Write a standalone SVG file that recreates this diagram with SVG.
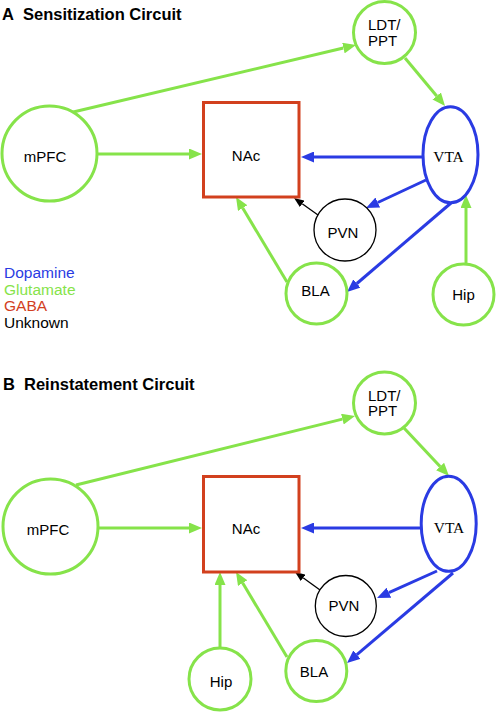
<svg xmlns="http://www.w3.org/2000/svg" width="496" height="712" viewBox="0 0 496 712">
<style>
.bg{fill:#ffffff}
.title{font-family:"Liberation Sans",Arial,sans-serif;font-weight:bold;font-size:16.5px;fill:#000}
.lbl{font-family:"Liberation Sans",Arial,sans-serif;font-size:15px;fill:#000;text-anchor:middle}
.lbll{font-family:"Liberation Sans",Arial,sans-serif;font-size:15px;fill:#000}
.serif{font-family:"Liberation Serif","Times New Roman",serif;font-size:15.5px;fill:#000;text-anchor:middle}
.leg{font-family:"Liberation Sans",Arial,sans-serif;font-size:15.5px}
.glu{fill:#fff;stroke:#86e34a;stroke-width:3}
.da{fill:#fff;stroke:#2a3be3;stroke-width:3}
.gaba{fill:#fff;stroke:#d2401e;stroke-width:3}
.unk{fill:#fff;stroke:#000;stroke-width:1.3}
.eg{stroke:#86e34a;stroke-width:3;fill:none;marker-end:url(#ag)}
.eb{stroke:#2a3be3;stroke-width:3;fill:none;marker-end:url(#ab)}
.ek{stroke:#000;stroke-width:1.3;fill:none;marker-end:url(#ak)}
</style>
<defs>
<marker id="ag" markerUnits="userSpaceOnUse" markerWidth="13" markerHeight="11" viewBox="0 0 13 11" refX="0" refY="5.5" orient="auto"><path d="M0,0 L13,5.5 L0,11 z" fill="#86e34a"/></marker>
<marker id="ab" markerUnits="userSpaceOnUse" markerWidth="13" markerHeight="11" viewBox="0 0 13 11" refX="0" refY="5.5" orient="auto"><path d="M0,0 L13,5.5 L0,11 z" fill="#2a3be3"/></marker>
<marker id="ak" markerUnits="userSpaceOnUse" markerWidth="10" markerHeight="8" viewBox="0 0 10 8" refX="0" refY="4" orient="auto"><path d="M0,0 L10,4 L0,8 z" fill="#000"/></marker>
</defs>
<rect class="bg" x="0" y="0" width="496" height="712"/>

<g id="titleA"><text class="title" x="2" y="20">A</text><text class="title" x="23" y="20">Sensitization Circuit</text></g>
<g id="titleB"><text class="title" x="3" y="390">B</text><text class="title" x="24" y="390">Reinstatement Circuit</text></g>

<g id="legend">
<text class="leg" x="4" y="278" fill="#2a3be3">Dopamine</text>
<text class="leg" x="4" y="294.5" fill="#86e34a">Glutamate</text>
<text class="leg" x="4" y="311" fill="#d2401e">GABA</text>
<text class="leg" x="4" y="327.5" fill="#000">Unknown</text>
</g>

<g id="connectors">
<line class="eg" x1="69" y1="113" x2="343.4" y2="48"/>
<line class="eg" x1="97" y1="154" x2="189" y2="154"/>
<line class="eg" x1="405" y1="58" x2="436.7" y2="96"/>
<line class="eb" x1="423" y1="157" x2="314" y2="157"/>
<line class="eb" x1="426" y1="180" x2="377.8" y2="202.5"/>
<line class="ek" x1="318" y1="215" x2="302.2" y2="203.8"/>
<line class="eb" x1="451" y1="203" x2="356.9" y2="283.5"/>
<line class="eg" x1="287" y1="282" x2="242.7" y2="208.1"/>
<line class="eg" x1="466" y1="264" x2="466" y2="208"/>

<line class="eg" x1="76" y1="485" x2="342.4" y2="419.1"/>
<line class="eg" x1="99" y1="528" x2="189" y2="528"/>
<line class="eg" x1="404" y1="428" x2="440.1" y2="466.5"/>
<line class="eb" x1="421" y1="528" x2="314" y2="528"/>
<line class="eb" x1="437" y1="571" x2="388.9" y2="592.7"/>
<line class="ek" x1="320" y1="590" x2="303.1" y2="577.8"/>
<line class="eb" x1="453" y1="573" x2="356.9" y2="654.6"/>
<line class="eg" x1="287" y1="657" x2="242.7" y2="583.1"/>
<line class="eg" x1="220" y1="648" x2="220" y2="585"/>
</g>

<g id="A_mPFC"><circle class="glu" cx="49.5" cy="153.5" r="47.5"/><text class="lbl" x="45" y="162">mPFC</text></g>
<g id="A_LDT"><circle class="glu" cx="384.5" cy="32.5" r="31"/><text class="lbll" x="368" y="30">LDT/</text><text class="lbll" x="368" y="45.5">PPT</text></g>
<g id="A_NAc"><rect class="gaba" x="203.5" y="102.5" width="95.5" height="94.5"/><text class="lbl" x="246" y="161">NAc</text></g>
<g id="A_VTA"><ellipse class="da" cx="450.5" cy="154.7" rx="27.5" ry="48"/><text class="serif" x="448.5" y="162">VTA</text></g>
<g id="A_PVN"><circle class="unk" cx="345" cy="230" r="31"/><text class="lbl" x="343" y="238">PVN</text></g>
<g id="A_BLA"><circle class="glu" cx="316.5" cy="293.5" r="30.5"/><text class="lbl" x="315.5" y="296">BLA</text></g>
<g id="A_Hip"><circle class="glu" cx="463.5" cy="294.5" r="30.5"/><text class="lbl" x="463.5" y="300">Hip</text></g>

<g id="B_mPFC"><circle class="glu" cx="50.5" cy="526.5" r="47.5"/><text class="lbl" x="48" y="535">mPFC</text></g>
<g id="B_LDT"><circle class="glu" cx="384.5" cy="403" r="31"/><text class="lbll" x="368" y="400.5">LDT/</text><text class="lbll" x="368" y="416">PPT</text></g>
<g id="B_NAc"><rect class="gaba" x="203.5" y="476.5" width="95.5" height="95.5"/><text class="lbl" x="246" y="534">NAc</text></g>
<g id="B_VTA"><ellipse class="da" cx="448.7" cy="523.8" rx="27.5" ry="47.5"/><text class="serif" x="449" y="533">VTA</text></g>
<g id="B_PVN"><circle class="unk" cx="345.8" cy="606" r="30.5"/><text class="lbl" x="344" y="611">PVN</text></g>
<g id="B_BLA"><circle class="glu" cx="316.3" cy="671" r="30.5"/><text class="lbl" x="314" y="677">BLA</text></g>
<g id="B_Hip"><circle class="glu" cx="220" cy="679" r="31"/><text class="lbl" x="221" y="687">Hip</text></g>
</svg>
